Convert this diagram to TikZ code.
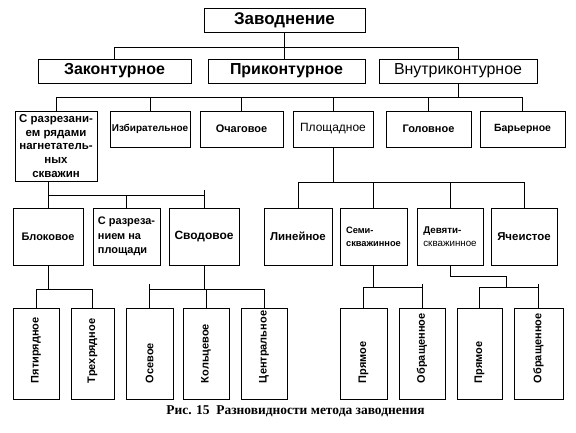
\documentclass[tikz,border=0pt]{standalone}
\usepackage{fontspec}
\setmainfont{Liberation Sans}
\newfontfamily\capfont{Liberation Serif}
\newcommand\myfs[2]{\fontsize{#1}{#2}\selectfont}
\begin{document}
\begin{tikzpicture}[x=1bp,y=-1bp, line width=0.8bp,
  box/.style={draw, line width=0.8bp, inner sep=0pt, align=center, font=\bfseries\myfs{11}{13}},
  vbox/.style={draw, line width=0.8bp, inner sep=0pt, rotate=90, minimum width=91bp, font=\bfseries\myfs{11}{13}},
  bigbox/.style={box, minimum height=24bp, font=\bfseries\myfs{16}{19}},
  rbox/.style={box, minimum height=36bp},
  mbox/.style={box, minimum height=57bp}
]
\useasboundingbox (0,0) rectangle (576,432);
% level 1
\node[box, minimum width=161bp, minimum height=24bp, font=\bfseries\myfs{17}{20}] (top) at (284.5,20) {Заводнение};
% level 2
\node[bigbox, minimum width=153bp] (zak) at (114.5,71) {Законтурное};
\node[bigbox, minimum width=157bp] (prik) at (286.5,71) {Приконтурное};
\node[bigbox, minimum width=158bp, font=\mdseries\myfs{16}{19}] (vnut) at (458,71) {Внутриконтурное};
% level 3
\node[box, minimum width=82bp, minimum height=70bp, font=\bfseries\myfs{11.5}{13.6}] (srz) at (56,146) {С разрезани-\\ем рядами\\нагнетатель-\\ных\\скважин};
\node[rbox, minimum width=80bp, font=\bfseries\myfs{10}{12}] (izb) at (150,129) {Избирательное};
\node[rbox, minimum width=83bp] (och) at (241.5,129) {Очаговое};
\node[rbox, minimum width=80bp, font=\mdseries\myfs{12}{14}] (plosh) at (333,129) {Площадное};
\node[rbox, minimum width=85bp] (gol) at (428.5,129) {Головное};
\node[rbox, minimum width=85bp, font=\bfseries\myfs{10.5}{12}] (bar) at (522.5,129) {Барьерное};
% level 4
\node[mbox, minimum width=70bp] (blok) at (48,236.5) {Блоковое};
\node[mbox, minimum width=67bp, align=left, font=\bfseries\myfs{11}{14.5}] (srp) at (126.5,236.5) {С разреза-\\нием на\\площади};
\node[mbox, minimum width=70bp, font=\bfseries\myfs{12}{14}] (svod) at (204,236.5) {Сводовое};
\node[mbox, minimum width=68bp, font=\bfseries\myfs{11.5}{14}] (lin) at (298,236.5) {Линейное};
\node[mbox, minimum width=67bp, align=left, font=\bfseries\myfs{9.3}{13}] (semi) at (373.5,236.5) {Семи-\\скважинное};
\node[mbox, minimum width=66bp, align=left, font=\bfseries\myfs{9.8}{13}] (dev) at (450,236.5) {Девяти-\\{\mdseries скважинное}};
\node[mbox, minimum width=66bp, font=\bfseries\myfs{11.5}{14}] (yach) at (524,236.5) {Ячеистое};
% level 5
\node[vbox, minimum height=46bp] (pyat) at (36,353.5) {\makebox[59bp][l]{Пятирядное}};
\node[vbox, minimum height=43bp] (tri) at (92.5,353.5) {\makebox[59bp][l]{Трехрядное}};
\node[vbox, minimum height=47bp] (os) at (149.5,353.5) {\makebox[59bp][l]{Осевое}};
\node[vbox, minimum height=46bp] (kol) at (206,353.5) {\makebox[59bp][l]{Кольцевое}};
\node[vbox, minimum height=46bp] (cent) at (264,353.5) {\makebox[59bp][l]{Центральное}};
\node[vbox, minimum height=47bp] (pr1) at (363.5,353.5) {\makebox[59bp][l]{Прямое}};
\node[vbox, minimum height=46bp] (obr1) at (422,353.5) {\makebox[59bp][l]{Обращенное}};
\node[vbox, minimum height=45bp] (pr2) at (479.5,353.5) {\makebox[59bp][l]{Прямое}};
\node[vbox, minimum height=49bp] (obr2) at (538.5,353.5) {\makebox[59bp][l]{Обращенное}};
% caption
\node[font=\capfont\bfseries\myfs{13.5}{15}] (cap) at (295.5,411) {Рис. 15\ \ Разновидности метода заводнения};
% bus levels
\coordinate (y1) at (0,47);
\coordinate (y2) at (0,97);
\coordinate (y3) at (0,195);
\coordinate (y4) at (0,182);
\coordinate (y5) at (0,289);
\coordinate (y6) at (0,287);
\coordinate (d7) at (506,276);
% connectors
\draw (top.south) -- (top.south |- prik.north);
\draw (zak.north) |- (y1 -| vnut.north) -- (vnut.north);
\draw (vnut.south) -- (vnut.south |- y2);
\draw (srz.north) |- (y2 -| bar.north) -- (bar.north);
\foreach \n in {izb,och,plosh,gol} \draw (\n.north) -- (\n.north |- y2);
\draw (srz.south -| blok.north) -- (blok.north);
\draw (blok.north |- y3) -- (svod.north |- y3);
\draw (srp.north) -- (srp.north |- y3);
\draw (svod.north) -- ++(0,-18);
\draw (plosh.south) -- (plosh.south |- y4);
\draw (lin.north) |- (y4 -| yach.north) -- (yach.north);
\draw (semi.north) -- (semi.north |- y4);
\draw (dev.north) -- (dev.north |- y4);
\draw (blok.south) -- (blok.south |- y5);
\draw (pyat.east) |- (y5 -| tri.east) -- (tri.east);
\draw (svod.south) -- (svod.south |- y5);
\draw (os.east) -- ++(0,-24);
\draw (os.east |- y5) -| (cent.east);
\draw (kol.east) -- (kol.east |- y5);
\draw (semi.south) -- (semi.south |- y6);
\draw (pr1.east) |- (y6 -| obr1.east) -- (obr1.east);
\draw (obr1.east) -- ++(0,-24);
\draw (dev.south) |- (d7) -- (d7 |- y6);
\draw (pr2.east) |- (y6 -| obr2.east) -- (obr2.east);
\draw (obr2.east) -- ++(0,-24);
\end{tikzpicture}
\end{document}
